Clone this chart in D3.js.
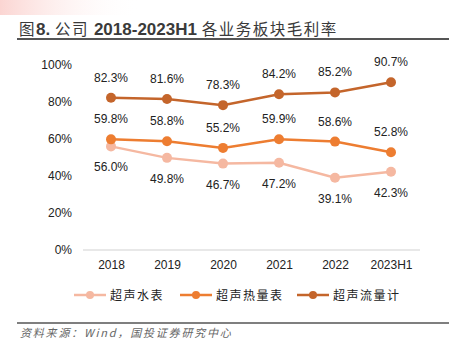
<!DOCTYPE html>
<html><head><meta charset="utf-8">
<script src="https://cdn.jsdelivr.net/npm/d3@7/dist/d3.min.js"></script>
<style>body{margin:0;background:#fff}svg{display:block}</style>
</head><body>
<script>
const categories = ["2018","2019","2020","2021","2022","2023H1"];
const seriesNames = ["超声水表","超声热量表","超声流量计"];
const waterMeter = [56.0,49.8,46.7,47.2,39.1,42.3];
const heatMeter = [59.8,58.8,55.2,59.9,58.6,52.8];
const flowMeter = [82.3,81.6,78.3,84.2,85.2,90.7];
const yTicks = [0,20,40,60,80,100];
const colors = ["#F5B8A1","#ED7D31","#C4652B"];
const labelOffsets = [25,-16,-16];

const W=459,H=352;
const svg=d3.select("body").append("svg").attr("width",W).attr("height",H);
const defs=svg.append("defs");
const g=defs.append("linearGradient").attr("id","tg");
g.append("stop").attr("offset","0").attr("stop-color","#FBD5D2");
g.append("stop").attr("offset","1").attr("stop-color","#fff").attr("stop-opacity",0);
svg.append("rect").attr("x",0).attr("y",0).attr("width",140).attr("height",15).attr("fill","url(#tg)");

const cjk="Noto Sans CJK SC, sans-serif";
const font="Liberation Sans, Arial, sans-serif";
const title=svg.append("text").attr("x",19).attr("y",35).attr("fill","#3a3a3a");
const parts=[["图",0],["8. ",1],["公司 ",0],["2018-2023H1 ",1],["各业务板块毛利率",0]];
parts.forEach(([t,latin])=>{
  const ts=title.append("tspan").text(t);
  if(latin) ts.attr("font-family",font).attr("font-weight","bold").attr("font-size",17);
  else ts.attr("font-family",cjk).attr("font-size",15.5).attr("letter-spacing",1.5);
});
svg.append("line").attr("x1",17).attr("x2",449).attr("y1",39).attr("y2",39).attr("stroke","#555").attr("stroke-width",2);

const x=d3.scalePoint().domain(categories).range([111,391]);
const y=d3.scaleLinear().domain([0,100]).range([250,65]);

svg.append("line").attr("x1",83).attr("x2",420).attr("y1",y(0)).attr("y2",y(0)).attr("stroke","#e0e0e0").attr("stroke-width",1.5);

const yAxis=svg.append("g").attr("transform","translate(72,0)").call(d3.axisLeft(y).tickValues(yTicks).tickFormat(d=>d+"%").tickSize(0).tickPadding(0));
yAxis.select(".domain").remove();
yAxis.selectAll("text").attr("font-family",font).attr("font-size",12).attr("fill","#222");

const xAxis=svg.append("g").attr("transform","translate(0,"+y(0)+")").call(d3.axisBottom(x).tickSize(0).tickPadding(10));
xAxis.select(".domain").remove();
xAxis.selectAll("text").attr("font-family",font).attr("font-size",12).attr("fill","#222");

const data=[waterMeter,heatMeter,flowMeter];
const line=d3.line().x((d,i)=>x(categories[i])).y(d=>y(d));
data.forEach((s,k)=>{
  svg.append("path").attr("d",line(s)).attr("fill","none").attr("stroke",colors[k]).attr("stroke-width",2.5);
  svg.selectAll(null).data(s).enter().append("circle").attr("cx",(d,i)=>x(categories[i])).attr("cy",d=>y(d)).attr("r",5).attr("fill",colors[k]);
  svg.selectAll(null).data(s).enter().append("text").attr("x",(d,i)=>x(categories[i])).attr("y",d=>y(d)+labelOffsets[k])
    .attr("text-anchor","middle").attr("font-family",font).attr("font-size",12).attr("fill","#222").text(d=>d.toFixed(1)+"%");
});

// legend
const legX=[74,180,297];
seriesNames.forEach((n,k)=>{
  const lg=svg.append("g").attr("transform","translate("+legX[k]+",295)");
  lg.append("line").attr("x1",0).attr("x2",32).attr("y1",0).attr("y2",0).attr("stroke",colors[k]).attr("stroke-width",2.5);
  lg.append("circle").attr("cx",16).attr("cy",0).attr("r",4).attr("fill",colors[k]);
  lg.append("text").attr("x",36).attr("y",4.5).attr("font-family",cjk).attr("font-size",12).attr("letter-spacing",1.5).attr("fill","#222").text(n);
});

svg.append("line").attr("x1",17).attr("x2",449).attr("y1",323).attr("y2",323).attr("stroke","#555").attr("stroke-width",1.5);
svg.append("text").attr("x",20).attr("y",337).attr("font-family",cjk).attr("font-style","italic")
 .attr("font-size",11).attr("letter-spacing",1.8).attr("fill","#666").text("资料来源：Wind，国投证券研究中心");
</script>
</body></html>
